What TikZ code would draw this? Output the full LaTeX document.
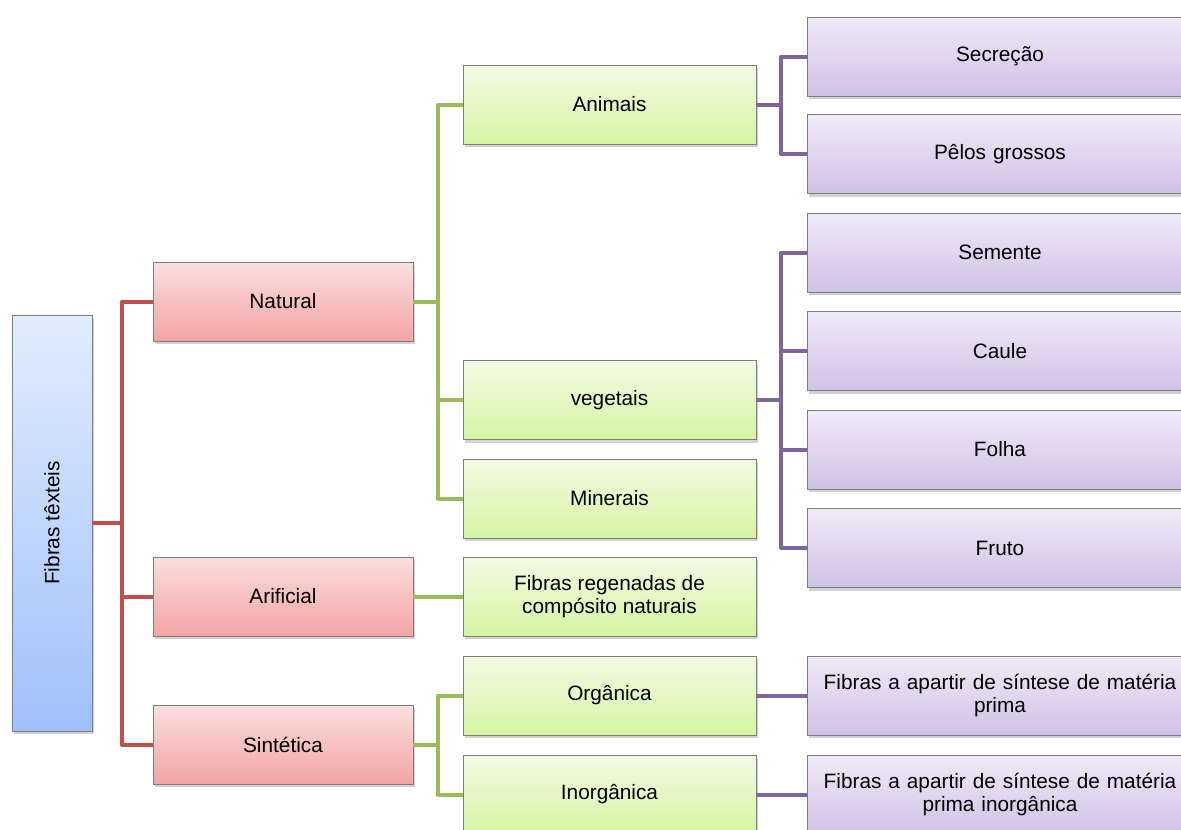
\documentclass[tikz,border=0pt]{standalone}
\usepackage{fontspec}
\setmainfont{Liberation Sans}
\usetikzlibrary{shadows}
\definecolor{blueTop}{RGB}{226,236,253}
\definecolor{blueBot}{RGB}{160,192,250}
\definecolor{redTop}{RGB}{251,222,222}
\definecolor{redBot}{RGB}{244,164,164}
\definecolor{greenTop}{RGB}{242,251,228}
\definecolor{greenBot}{RGB}{214,245,162}
\definecolor{purpTop}{RGB}{240,234,248}
\definecolor{purpBot}{RGB}{208,194,230}
\definecolor{edgeGray}{RGB}{125,125,125}
\definecolor{redLine}{RGB}{192,80,77}
\definecolor{greenLine}{RGB}{155,187,89}
\definecolor{purpLine}{RGB}{128,100,162}
\tikzset{
  box/.style={rectangle, draw=edgeGray, line width=1pt, inner sep=2pt, outer sep=0pt,
    align=center, font=\fontsize{20.8}{23}\selectfont,
    drop shadow={shadow xshift=2pt, shadow yshift=-3pt, opacity=0.35}},
  rootbox/.style={box, top color=blueTop, bottom color=blueBot,
    minimum width=80pt, minimum height=416pt},
  redbox/.style={box, top color=redTop, bottom color=redBot,
    minimum width=260pt, minimum height=79pt},
  greenbox/.style={box, top color=greenTop, bottom color=greenBot,
    minimum width=293pt, minimum height=79pt},
  purpbox/.style={box, top color=purpTop, bottom color=purpBot,
    minimum width=386pt, minimum height=79pt, text width=380pt},
  link/.style={line width=4pt, line join=round},
  redlink/.style={link, draw=redLine},
  greenlink/.style={link, draw=greenLine},
  purplink/.style={link, draw=purpLine},
}
\begin{document}
\begin{tikzpicture}[x=1pt, y=-1pt]
\clip (0,0) rectangle (1181,830);
\fill[white] (0,0) rectangle (1181,830);

% root
\node[rootbox] (root) at (52,523) {\rotatebox{90}{Fibras têxteis}};

% first level
\node[redbox] (nat) at (283,301.5) {Natural};
\node[redbox] (art) at (283,596.5) {Arificial};
\node[redbox] (sin) at (283,744.5) {Sintética};

% second level
\node[greenbox] (ani) at (609.5,104.5) {Animais};
\node[greenbox] (veg) at (609.5,400) {vegetais};
\node[greenbox] (min) at (609.5,498.5) {Minerais};
\node[greenbox] (reg) at (609.5,596.5) {Fibras regenadas de\\compósito naturais};
\node[greenbox] (org) at (609.5,695.5) {Orgânica};
\node[greenbox] (ino) at (609.5,794.5) {Inorgânica};

% third level
\node[purpbox] (sec) at (1000,56.5) {Secreção};
\node[purpbox] (pel) at (1000,154) {Pêlos grossos};
\node[purpbox] (sem) at (1000,252.5) {Semente};
\node[purpbox] (cau) at (1000,351) {Caule};
\node[purpbox] (fol) at (1000,449.5) {Folha};
\node[purpbox] (fru) at (1000,548) {Fruto};
\node[purpbox] (fmp) at (1000,695.5) {Fibras a apartir de síntese de matéria\\prima};
\node[purpbox] (fmi) at (1000,794.5) {Fibras a apartir de síntese de matéria\\prima inorgânica};

% junction points
\coordinate (jr) at (122,523);
\coordinate (jn) at (438,301.5);
\coordinate (js) at (438,744.5);
\coordinate (ja) at (781,104.5);
\coordinate (jv) at (781,400);

% connectors
\draw[redlink] (root.east) -- (jr);
\draw[redlink] (jr) |- (nat.west);
\draw[redlink] (jr) |- (art.west);
\draw[redlink] (jr) |- (sin.west);

\draw[greenlink] (nat.east) -- (jn);
\draw[greenlink] (jn) |- (ani.west);
\draw[greenlink] (jn) |- (veg.west);
\draw[greenlink] (jn) |- (min.west);
\draw[greenlink] (art.east) -- (reg.west);
\draw[greenlink] (sin.east) -- (js);
\draw[greenlink] (js) |- (org.west);
\draw[greenlink] (js) |- (ino.west);

\draw[purplink] (ani.east) -- (ja);
\draw[purplink] (ja) |- (sec.west);
\draw[purplink] (ja) |- (pel.west);
\draw[purplink] (veg.east) -- (jv);
\draw[purplink] (jv) |- (sem.west);
\draw[purplink] (jv) |- (cau.west);
\draw[purplink] (jv) |- (fol.west);
\draw[purplink] (jv) |- (fru.west);
\draw[purplink] (org.east) -- (fmp.west);
\draw[purplink] (ino.east) -- (fmi.west);
\end{tikzpicture}
\end{document}
